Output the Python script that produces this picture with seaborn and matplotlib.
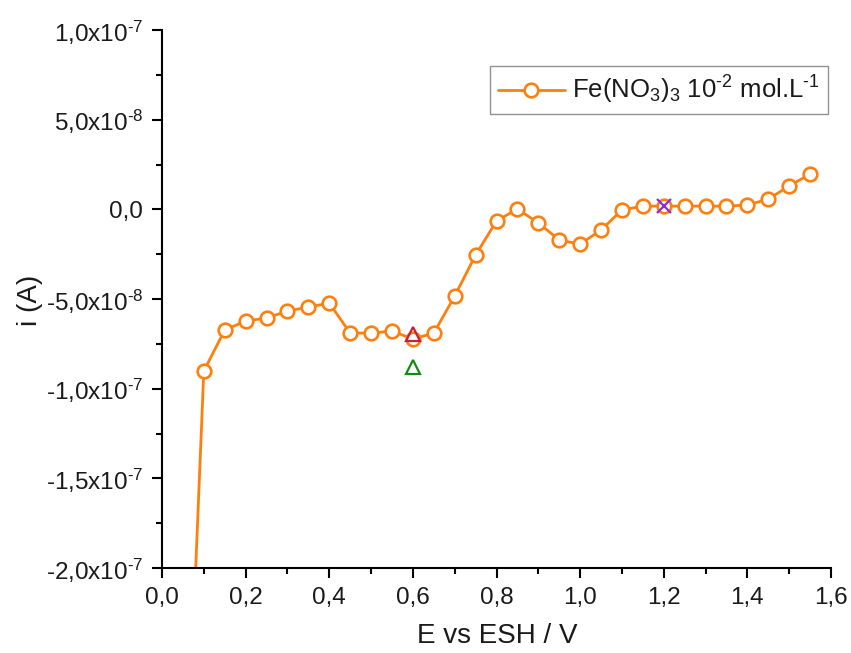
import numpy as np
import pandas as pd
import matplotlib
matplotlib.use("Agg")
import matplotlib.pyplot as plt
import seaborn as sns
from matplotlib.ticker import FixedLocator, MultipleLocator

# ---- data ----
E_V = [0.05, 0.10, 0.15, 0.20, 0.25, 0.30, 0.35, 0.40, 0.45, 0.50, 0.55, 0.60,
       0.65, 0.70, 0.75, 0.80, 0.85, 0.90, 0.95, 1.00, 1.05, 1.10, 1.15, 1.20,
       1.25, 1.30, 1.35, 1.40, 1.45, 1.50, 1.55]
I_A = [-3.73e-7, -9.02e-8, -6.73e-8, -6.23e-8, -6.06e-8, -5.67e-8, -5.45e-8,
       -5.23e-8, -6.90e-8, -6.90e-8, -6.79e-8, -7.23e-8, -6.90e-8, -4.84e-8,
       -2.55e-8, -6.5e-9, 2.0e-10, -7.6e-9, -1.71e-8, -1.94e-8, -1.15e-8,
       -4.0e-10, 1.8e-9, 1.8e-9, 1.8e-9, 1.8e-9, 1.8e-9, 2.4e-9, 5.7e-9,
       1.30e-8, 1.97e-8]
series_label = "Fe(NO$_3$)$_3$ 10$^{\u2010 2}$ mol.L$^{\u2010 1}$"

red_tri_E = [0.60]
red_tri_I = [-6.94e-8]
green_tri_E = [0.60]
green_tri_I = [-8.78e-8]
cross_E = [1.20]
cross_I = [1.8e-9]

y_ticks = [-2e-7, -1.5e-7, -1e-7, -5e-8, 0.0, 5e-8, 1e-7]
y_tick_labels = ["-2,0x10$^{\u20107}$", "-1,5x10$^{\u20107}$", "-1,0x10$^{\u20107}$",
                 "-5,0x10$^{\u20108}$", "0,0", "5,0x10$^{\u20108}$", "1,0x10$^{\u20107}$"]
x_ticks = [0.0, 0.2, 0.4, 0.6, 0.8, 1.0, 1.2, 1.4, 1.6]
x_tick_labels = ["0,0", "0,2", "0,4", "0,6", "0,8", "1,0", "1,2", "1,4", "1,6"]

# ---- style ----
sns.set_theme(style="ticks")
plt.rcParams["font.family"] = ["Liberation Sans", "DejaVu Sans"]
plt.rcParams["mathtext.fontset"] = "custom"
plt.rcParams["mathtext.rm"] = "Liberation Sans"
plt.rcParams["mathtext.it"] = "Liberation Sans:italic"
plt.rcParams["mathtext.bf"] = "Liberation Sans:bold"
plt.rcParams["mathtext.default"] = "regular"
tick_fs = 17.5
plt.rcParams["xtick.labelsize"] = tick_fs
plt.rcParams["ytick.labelsize"] = tick_fs

orange = "#FF7F0E"

fig = plt.figure(figsize=(8.51, 6.53), dpi=100)
ax = fig.add_axes([162/851, 1-568/653, (831-162)/851, (568-30)/653])

df = pd.DataFrame({"E": E_V, "I": I_A})
sns.lineplot(data=df, x="E", y="I", ax=ax, color=orange, linewidth=2.0,
             marker="o", markersize=9.8, markerfacecolor="white",
             markeredgecolor=orange, markeredgewidth=1.9, label=series_label,
             sort=False)

sns.lineplot(x=red_tri_E, y=red_tri_I, ax=ax, linestyle="none", marker="^",
             markersize=10, markerfacecolor="none", markeredgecolor="#C8203C",
             markeredgewidth=1.6, legend=False)
sns.lineplot(x=green_tri_E, y=green_tri_I, ax=ax, linestyle="none", marker="^",
             markersize=10, markerfacecolor="none", markeredgecolor="#138A13",
             markeredgewidth=1.6, legend=False)
sns.lineplot(x=cross_E, y=cross_I, ax=ax, linestyle="none", marker="x",
             markersize=10, markeredgecolor="#8A2BE2",
             markeredgewidth=1.6, legend=False)

ax.set_xlim(0.0, 1.6)
ax.set_ylim(-2e-7, 1e-7)

ax.xaxis.set_major_locator(FixedLocator(x_ticks))
ax.set_xticklabels(x_tick_labels, fontsize=tick_fs)
ax.xaxis.set_minor_locator(MultipleLocator(0.1))
ax.yaxis.set_major_locator(FixedLocator(y_ticks))
ax.set_yticklabels(y_tick_labels, fontsize=tick_fs)
ax.yaxis.set_minor_locator(MultipleLocator(2.5e-8))

for s in ["top", "right"]:
    ax.spines[s].set_visible(False)
for s in ["left", "bottom"]:
    ax.spines[s].set_linewidth(1.5)
    ax.spines[s].set_color("black")

ax.tick_params(axis="both", which="major", direction="out", length=7.5,
               width=1.5, pad=6, colors="black")
ax.tick_params(axis="both", which="minor", direction="out", length=4,
               width=1.5, colors="black")
for lab in ax.get_xticklabels() + ax.get_yticklabels():
    lab.set_color("#1a1a1a")
    lab.set_fontsize(tick_fs)

ax.set_xlabel("E vs ESH / V", fontsize=20, color="#1a1a1a")
ax.set_ylabel("i (A)", fontsize=20, color="#1a1a1a")
ax.xaxis.set_label_coords((497-162)/(831-162), -(636-568)/(568-30))
ax.yaxis.set_label_coords(-(162-30)/(831-162), (568-300)/(568-30))
ax.xaxis.label.set_va("center")
ax.yaxis.label.set_va("center")

leg = ax.legend(loc="upper right", bbox_to_anchor=(828/851, 1-66/653),
                bbox_transform=fig.transFigure, borderaxespad=0,
                fontsize=18.5, frameon=True, fancybox=False, handlelength=2.6,
                handletextpad=0.3, borderpad=0.3)
leg.get_frame().set_edgecolor("#777777")
leg.get_frame().set_linewidth(1.0)
for t in leg.get_texts():
    t.set_color("#1a1a1a")

ax.set_facecolor("white")
fig.patch.set_facecolor("white")
fig.savefig("out.png", dpi=100, facecolor="white")
